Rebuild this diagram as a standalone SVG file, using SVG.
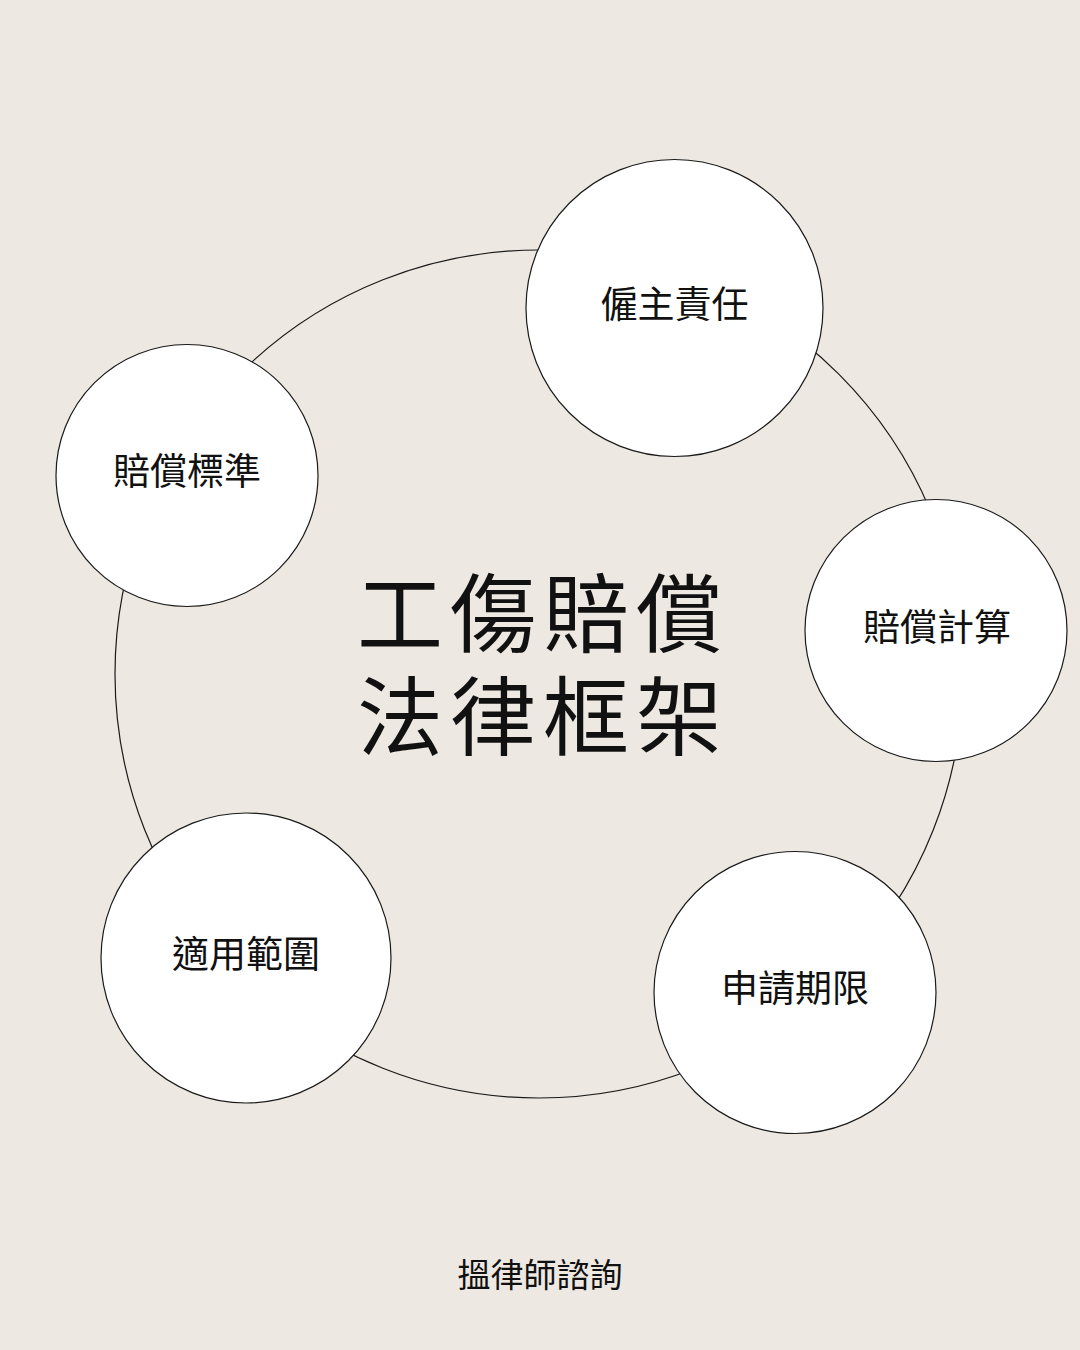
<svg xmlns="http://www.w3.org/2000/svg" width="1080" height="1350" viewBox="0 0 1080 1350">
<style>
.node{fill:#ffffff;stroke:#1a1a1a;stroke-width:1.2}
.ring{fill:none;stroke:#1a1a1a;stroke-width:1.2}
.lbl{font-family:"Noto Sans CJK TC","Noto Sans CJK SC",sans-serif;font-size:37px;fill:#111;text-anchor:middle;dominant-baseline:central}
.title{font-family:"Noto Sans CJK TC","Noto Sans CJK SC",sans-serif;font-size:86px;fill:#111;text-anchor:middle;letter-spacing:7px;dominant-baseline:central}
.foot{font-family:"Noto Sans CJK TC","Noto Sans CJK SC",sans-serif;font-size:33px;fill:#111;text-anchor:middle;dominant-baseline:central}
</style>
<rect width="1080" height="1350" fill="#ede8e1"/>
<g id="connectors">
<circle class="ring" cx="539" cy="674" r="424"/>
</g>
<g id="title">
<text class="title"><tspan x="543" y="608">工傷賠償</tspan><tspan x="543" y="711">法律框架</tspan></text>
</g>
<g id="node-employer">
<circle class="node" cx="674.5" cy="308" r="148.5"/>
<text class="lbl" x="674.5" y="302">僱主責任</text>
</g>
<g id="node-calc">
<circle class="node" cx="936" cy="630.5" r="131"/>
<text class="lbl" x="937" y="625">賠償計算</text>
</g>
<g id="node-deadline">
<circle class="node" cx="795" cy="992.5" r="141"/>
<text class="lbl" x="795" y="986">申請期限</text>
</g>
<g id="node-scope">
<circle class="node" cx="246" cy="958" r="145"/>
<text class="lbl" x="246" y="952">適用範圍</text>
</g>
<g id="node-standard">
<circle class="node" cx="187" cy="475.5" r="131"/>
<text class="lbl" x="187" y="469">賠償標準</text>
</g>
<g id="footer">
<text class="foot" x="540" y="1273">搵律師諮詢</text>
</g>
</svg>
